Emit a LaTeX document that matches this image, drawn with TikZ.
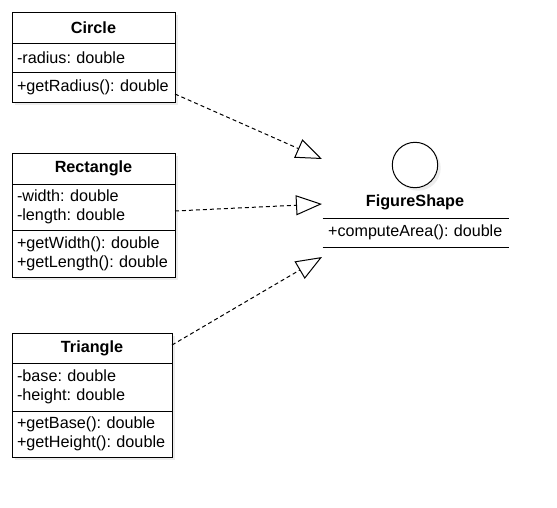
\documentclass[tikz,border=0pt]{standalone}
\usepackage{fontspec}
\setmainfont{Liberation Sans}
\usetikzlibrary{positioning,arrows.meta,shadows}
\frenchspacing

\begin{document}
\begin{tikzpicture}[x=1pt,y=-1pt,
    part/.style={draw,line width=1pt,fill=white,outer sep=0pt,inner xsep=5pt,inner ysep=0pt,
      text width=#1,align=left,font=\fontsize{16.2}{18.7}\selectfont,
      drop shadow={opacity=0.15,shadow xshift=3pt,shadow yshift=-3pt}},
    head/.style={part=#1,align=center,font=\fontsize{16.2}{18.7}\selectfont\bfseries},
    realize/.style={dash pattern=on 4pt off 3pt,line width=1pt,
      -{Triangle[open,length=26pt,width=20pt]}}]
    \useasboundingbox (0,0) rectangle (557,507);
    % Circle
    \node[head=153pt,minimum height=31pt,anchor=north west] (circTitle) at (12,12) {Circle};
    \node[part=153pt,minimum height=29pt,below=0pt of circTitle] (circAttr) {-radius: double};
    \node[part=153pt,minimum height=30pt,below=0pt of circAttr] (circOps) {+getRadius(): double};
    % Rectangle
    \node[head=153pt,minimum height=31pt,anchor=north west] (rectTitle) at (12,153) {Rectangle};
    \node[part=153pt,minimum height=46pt,below=0pt of rectTitle] (rectAttr) {-width: double\\-length: double};
    \node[part=153pt,minimum height=47pt,below=0pt of rectAttr] (rectOps) {+getWidth(): double\\+getLength(): double};
    % Triangle
    \node[head=150pt,minimum height=30pt,anchor=north west] (triTitle) at (12,333) {Triangle};
    \node[part=150pt,minimum height=48pt,below=0pt of triTitle] (triAttr) {-base: double\\-height: double};
    \node[part=150pt,minimum height=46pt,below=0pt of triAttr] (triOps) {+getBase(): double\\+getHeight(): double};
    % interface FigureShape
    \node[circle,draw,line width=1pt,fill=white,minimum size=45.4pt,inner sep=0pt,
      drop shadow={opacity=0.15,shadow xshift=3pt,shadow yshift=-3pt}] (ifaceCirc) at (415,165) {};
    \node[font=\fontsize{16.2}{18.7}\selectfont\bfseries] (ifaceName) at (415,202) {FigureShape};
    \node[anchor=north west,inner xsep=5.5pt,inner ysep=0pt,outer sep=0pt,text width=175pt,align=left,
      minimum height=29pt,font=\fontsize{16.1}{18.7}\selectfont] (ifaceOps) at (322.7,218.3)
      {\mbox{+computeArea(): double}};
    \draw[line width=1pt] (ifaceOps.north west) -- (ifaceOps.north east)
      (ifaceOps.south west) -- (ifaceOps.south east);
    \coordinate (tipCirc) at (322,159);
    \coordinate (tipRect) at (322,204);
    \coordinate (tipTri) at (322,257);
    % realizations
    \draw[realize] ([yshift=-7pt]circOps.east) -- (tipCirc);
    \draw[realize] ([yshift=-4pt]rectAttr.east) -- (tipRect);
    \draw[realize] ([yshift=3pt]triTitle.east) -- (tipTri);
\end{tikzpicture}
\end{document}
